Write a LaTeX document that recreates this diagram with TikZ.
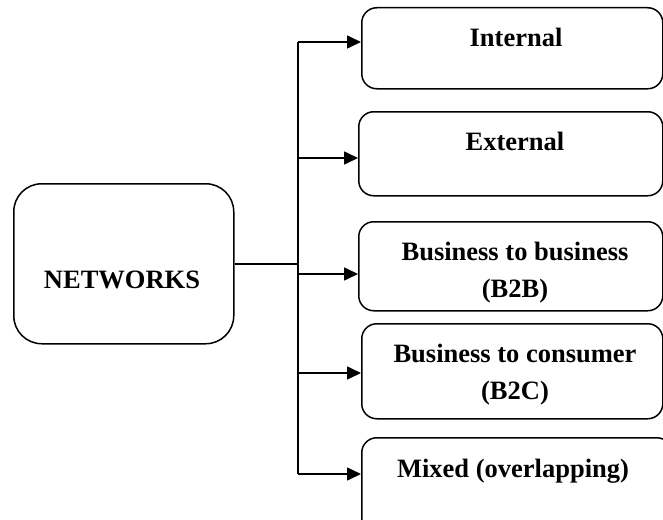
\documentclass[tikz,border=0pt]{standalone}
\usepackage{fontspec}
\setmainfont{Liberation Serif}
\usetikzlibrary{arrows.meta}
\begin{document}
\begin{tikzpicture}[x=1pt,y=-1pt,
  catbox/.style={draw,line width=1.5pt,rounded corners=15pt,inner sep=0pt,anchor=north west},
  mainbox/.style={draw,line width=1.5pt,rounded corners=28pt,inner sep=0pt,anchor=north west,
    minimum width=220pt,minimum height=160pt},
  lbl/.style={font=\bfseries\fontsize{26.5}{36.5}\selectfont,align=center,anchor=base,inner sep=0pt},
  wire/.style={line width=1.6pt},
  tipline/.style={line width=1.6pt,-{Triangle[length=14pt,width=13pt]}}]
\clip (0,0) rectangle (663,519);
\useasboundingbox (0,0) rectangle (663,519);

% central box
\node[mainbox] (net) at (13,183) {};
\node[lbl] (netlbl) at (122,288) {NETWORKS};

% category boxes
\node[catbox,minimum width=301pt,minimum height=81pt] (b1) at (361,7) {};
\node[catbox,minimum width=304pt,minimum height=84pt] (b2) at (358,111) {};
\node[catbox,minimum width=304pt,minimum height=89pt] (b3) at (358,221) {};
\node[catbox,minimum width=301pt,minimum height=95pt] (b4) at (361,323) {};
\node[catbox,minimum width=310pt,minimum height=100pt] (b5) at (361,437) {};

% labels (base = baseline of the last line)
\node[lbl] (t1) at (516,46) {Internal};
\node[lbl] (t2) at (515,150) {External};
\node[lbl] (t3) at (515,297) {Business to business\\(B2B)};
\node[lbl] (t4) at (515,399) {Business to consumer\\(B2C)};
\node[lbl] (t5) at (513,477) {Mixed (overlapping)};

% trunk and branches
\coordinate (hub) at (298,264);
\coordinate (j1) at (298,42);
\coordinate (j2) at (298,158);
\coordinate (j3) at (298,274);
\coordinate (j4) at (298,373);
\coordinate (j5) at (298,474);

\draw[wire] (net.east |- hub) -- (hub);
\draw[wire] (j1) -- (j5);
\draw[tipline] (j1) -- (j1 -| b1.west);
\draw[tipline] (j2) -- (j2 -| b2.west);
\draw[tipline] (j3) -- (j3 -| b3.west);
\draw[tipline] (j4) -- (j4 -| b4.west);
\draw[tipline] (j5) -- (j5 -| b5.west);
\end{tikzpicture}
\end{document}
